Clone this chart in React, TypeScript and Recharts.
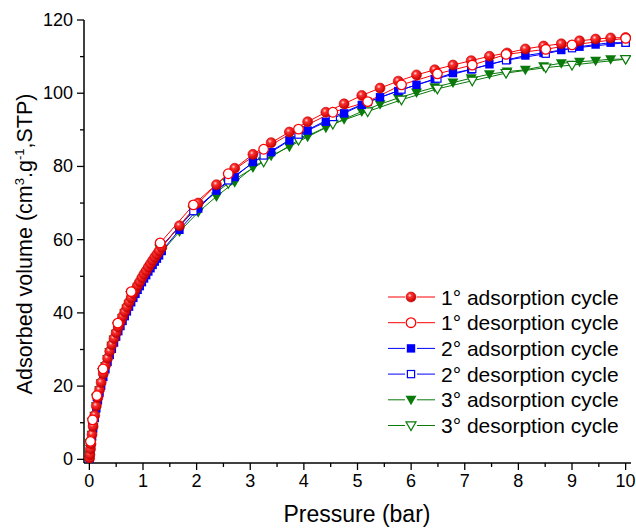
import React from 'react';
import { LineChart, Line, XAxis, YAxis, Customized } from 'recharts';

// ---- data ----
const adsPressure = [0.005, 0.01, 0.02, 0.03, 0.05, 0.07, 0.1, 0.13, 0.16, 0.19, 0.22, 0.26, 0.3, 0.34, 0.38, 0.42, 0.46, 0.5, 0.54, 0.58, 0.62, 0.66, 0.7, 0.74, 0.78, 0.82, 0.86, 0.9, 0.94, 0.98, 1.02, 1.06, 1.1, 1.14, 1.18, 1.22, 1.26, 1.3, 1.35, 1.68, 2.03, 2.37, 2.71, 3.05, 3.39, 3.73, 4.07, 4.41, 4.75, 5.08, 5.42, 5.76, 6.1, 6.44, 6.78, 7.12, 7.46, 7.79, 8.13, 8.47, 8.8, 9.14, 9.44, 9.72, 10.0];
const ads1 = [0.3, 1.3, 2.8, 4.2, 6.8, 9.0, 12.0, 14.6, 16.9, 19.0, 21.0, 23.4, 25.6, 27.6, 29.5, 31.3, 33.0, 34.6, 36.1, 37.6, 39.0, 40.3, 41.6, 42.9, 44.1, 45.3, 46.4, 47.5, 48.5, 49.6, 50.6, 51.5, 52.5, 53.4, 54.3, 55.2, 56.0, 56.9, 57.9, 63.8, 70.0, 75.0, 79.5, 83.3, 86.5, 89.4, 92.2, 94.8, 97.1, 99.4, 101.4, 103.3, 105.0, 106.4, 107.7, 108.9, 110.1, 111.0, 112.1, 112.9, 113.5, 114.3, 114.8, 115.1, 115.2];
const ads2 = [0.2, 1.1, 2.5, 3.8, 6.3, 8.4, 11.3, 13.9, 16.1, 18.2, 20.1, 22.5, 24.6, 26.6, 28.5, 30.2, 31.9, 33.5, 35.0, 36.4, 37.8, 39.1, 40.4, 41.7, 42.9, 44.1, 45.2, 46.3, 47.3, 48.4, 49.4, 50.3, 51.3, 52.2, 53.1, 54.0, 54.8, 55.7, 56.9, 62.7, 68.5, 73.4, 77.1, 81.2, 83.9, 87.1, 89.8, 92.2, 94.5, 96.8, 98.9, 100.6, 102.3, 103.9, 105.5, 106.5, 107.9, 109.1, 110.3, 111.0, 111.8, 112.7, 113.3, 113.8, 113.8];
const ads3 = [0.3, 1.3, 2.8, 4.1, 6.7, 8.9, 11.9, 14.5, 16.8, 18.9, 20.8, 23.2, 25.4, 27.4, 29.3, 31.0, 32.7, 34.3, 35.8, 37.2, 38.6, 39.9, 41.2, 42.4, 43.6, 44.8, 45.9, 46.9, 47.9, 48.9, 49.9, 50.8, 51.7, 52.6, 53.4, 54.2, 55.0, 55.8, 56.6, 62.2, 67.5, 71.8, 75.7, 79.7, 82.9, 85.4, 88.1, 90.6, 92.9, 95.0, 97.0, 98.7, 100.2, 101.6, 102.9, 104.1, 105.2, 105.9, 106.4, 107.4, 108.2, 108.6, 108.9, 109.3, 109.3];

const desPressure = [10.0, 9.0, 8.51, 7.77, 7.14, 6.49, 5.82, 5.19, 4.54, 3.9, 3.25, 2.59, 1.94, 1.32, 0.78, 0.53, 0.255, 0.14, 0.06, 0.02];
const des1 = [115.0, 113.2, 112.0, 110.6, 107.7, 105.3, 102.3, 97.7, 94.8, 90.2, 84.7, 78.0, 69.5, 59.1, 45.8, 37.2, 24.7, 17.4, 10.8, 4.9];
const des2 = [113.8, 112.3, 110.8, 109.0, 106.6, 104.0, 101.0, 97.6, 93.5, 88.7, 83.0, 76.2, 67.8, 57.8, 45.0, 36.5, 24.0, 17.0, 10.3, 4.5];
const des3 = [109.3, 107.7, 107.0, 105.5, 103.4, 101.2, 98.2, 95.0, 91.6, 87.2, 81.3, 75.4, 68.1, 57.5, 44.8, 36.3, 23.8, 16.8, 10.2, 4.4];

const xTicks = [0, 0.5, 1, 1.5, 2, 2.5, 3, 3.5, 4, 4.5, 5, 5.5, 6, 6.5, 7, 7.5, 8, 8.5, 9, 9.5, 10];
const yTicks = [0, 10, 20, 30, 40, 50, 60, 70, 80, 90, 100, 110, 120];
const legendLabels = ['1° adsorption cycle', '1° desorption cycle', '2° adsorption cycle', '2° desorption cycle', '3° adsorption cycle', '3° desorption cycle'];

const toPts = (xs: number[], ys: number[]) => xs.map((x, i) => ({ x, y: ys[i] }));
const sAds1 = toPts(adsPressure, ads1);
const sAds2 = toPts(adsPressure, ads2);
const sAds3 = toPts(adsPressure, ads3);
const sDes1 = toPts(desPressure, des1);
const sDes2 = toPts(desPressure, des2);
const sDes3 = toPts(desPressure, des3);

const FONT = '"Liberation Sans", Arial, sans-serif';
const RED = '#ff0000';
const BLUE = '#0000ff';
const GREEN = '#0a7a0a';

// ---- marker shapes ----
const Ball = (cx: number, cy: number, key?: any) => (
  <circle key={key} cx={cx} cy={cy} r={5} fill="url(#redBall)" stroke="#d00000" strokeWidth={0.6} />
);
const OCircle = (cx: number, cy: number, key?: any) => (
  <circle key={key} cx={cx} cy={cy} r={4.8} fill="#ffffff" stroke={RED} strokeWidth={1.3} />
);
const FSquare = (cx: number, cy: number, key?: any) => (
  <rect key={key} x={cx - 4.2} y={cy - 4.2} width={8.4} height={8.4} fill={BLUE} />
);
const OSquare = (cx: number, cy: number, key?: any) => (
  <rect key={key} x={cx - 3.6} y={cy - 3.6} width={7.2} height={7.2} fill="#ffffff" stroke={BLUE} strokeWidth={1.2} />
);
const FTri = (cx: number, cy: number, key?: any) => (
  <path key={key} d={`M${cx - 5.5},${cy - 4} L${cx + 5.5},${cy - 4} L${cx},${cy + 5.5} Z`} fill={GREEN} />
);
const OTri = (cx: number, cy: number, key?: any) => (
  <path key={key} d={`M${cx - 5},${cy - 3.6} L${cx + 5},${cy - 3.6} L${cx},${cy + 5} Z`} fill="#ffffff" stroke={GREEN} strokeWidth={1.2} />
);

const dotOf = (fn: any) => (p: any) => {
  if (p.cx == null || p.cy == null) return <g key={p.index} />;
  return fn(p.cx, p.cy, p.index);
};

// ---- axis ticks ----
const isMajor = (v: number) => Math.abs(v - Math.round(v)) < 1e-6;

const BottomTick = (p: any) => {
  const v = p.payload.value;
  const major = isMajor(v);
  return (
    <g>
      <line x1={p.x} x2={p.x} y1={p.y} y2={p.y + (major ? 7 : 4)} stroke="#000" strokeWidth={1.3} />
      {major && (
        <text x={p.x} y={p.y + 24} textAnchor="middle" fontFamily={FONT} fontSize={18} fill="#000">{v}</text>
      )}
    </g>
  );
};
const TopTick = (p: any) => {
  const major = isMajor(p.payload.value);
  return <line x1={p.x} x2={p.x} y1={p.y} y2={p.y + (major ? 5 : 3)} stroke="#000" strokeWidth={1.2} />;
};
const LeftTick = (p: any) => {
  const v = p.payload.value;
  const major = v % 20 === 0;
  return (
    <g>
      <line x1={p.x - (major ? 7 : 4)} x2={p.x} y1={p.y} y2={p.y} stroke="#000" strokeWidth={1.3} />
      {major && (
        <text x={p.x - 11} y={p.y + 6} textAnchor="end" fontFamily={FONT} fontSize={18} fill="#000">{v}</text>
      )}
    </g>
  );
};
const RightTick = (p: any) => {
  const major = p.payload.value % 20 === 0;
  return <line x1={p.x - (major ? 5 : 3)} x2={p.x} y1={p.y} y2={p.y} stroke="#000" strokeWidth={1.2} />;
};

// ---- titles and legend ----
const Titles = () => (
  <g fontFamily={FONT} fill="#000">
    <text x={357} y={522} textAnchor="middle" fontSize={23}>Pressure (bar)</text>
    <text transform="translate(32,244) rotate(-90)" textAnchor="middle" fontSize={21.5}>
      <tspan>Adsorbed volume (cm</tspan>
      <tspan dy={-8} fontSize={13}>3</tspan>
      <tspan dy={8}>.g</tspan>
      <tspan dy={-8} fontSize={13}>-1</tspan>
      <tspan dy={8}>,STP)</tspan>
    </text>
  </g>
);

const legendMarkers = [Ball, OCircle, FSquare, OSquare, FTri, OTri];
const legendColors = [RED, RED, BLUE, BLUE, GREEN, GREEN];

const LegendBox = () => (
  <g fontFamily={FONT}>
    {legendLabels.map((lab, i) => {
      const y = 297 + i * 25.7;
      return (
        <g key={lab}>
          <line x1={388} x2={405} y1={y} y2={y} stroke={legendColors[i]} strokeWidth={1} />
          <line x1={417} x2={435} y1={y} y2={y} stroke={legendColors[i]} strokeWidth={1} />
          {legendMarkers[i](411, y)}
          <text x={441} y={y + 7.5} fontSize={21} fill="#000">{lab}</text>
        </g>
      );
    })}
  </g>
);

export default function App() {
  return (
    <div style={{ position: 'absolute', left: 0, top: 0, width: 636, height: 528, background: '#fff' }}>
      <svg width={0} height={0} style={{ position: 'absolute' }}>
        <defs>
          <radialGradient id="redBall" cx="38%" cy="35%" r="65%">
            <stop offset="0%" stopColor="#ffe0e0" />
            <stop offset="30%" stopColor="#ff3030" />
            <stop offset="100%" stopColor="#c00000" />
          </radialGradient>
        </defs>
      </svg>
      <LineChart width={636} height={528} margin={{ top: 20, right: 5, left: 0, bottom: 0 }}>
        <XAxis xAxisId="b" dataKey="x" type="number" domain={[-0.1, 10.1]} ticks={xTicks} interval={0}
          allowDataOverflow tickSize={0} tickMargin={0} height={65} tickLine={false}
          axisLine={{ stroke: '#000', strokeWidth: 1.5 }} tick={<BottomTick />} />
        <XAxis xAxisId="t" dataKey="x" type="number" orientation="top" mirror domain={[-0.1, 10.1]} ticks={xTicks}
          interval={0} allowDataOverflow tickSize={0} tickMargin={0} height={0} tickLine={false}
          axisLine={{ stroke: '#000', strokeWidth: 1.5 }} tick={<TopTick />} />
        <YAxis yAxisId="l" type="number" domain={[-1, 120]} ticks={yTicks} interval={0} allowDataOverflow
          width={84} tickSize={0} tickMargin={0} tickLine={false}
          axisLine={{ stroke: '#000', strokeWidth: 1.5 }} tick={<LeftTick />} />
        <YAxis yAxisId="r" type="number" orientation="right" mirror domain={[-1, 120]} ticks={yTicks} interval={0}
          allowDataOverflow width={0} tickSize={0} tickMargin={0} tickLine={false}
          axisLine={{ stroke: '#000', strokeWidth: 1.5 }} tick={<RightTick />} />

        <Line xAxisId="b" yAxisId="l" data={sAds3} dataKey="y" stroke={GREEN} strokeWidth={1} dot={dotOf(FTri)} activeDot={false} isAnimationActive={false} />
        <Line xAxisId="b" yAxisId="l" data={sDes3} dataKey="y" stroke={GREEN} strokeWidth={1} dot={dotOf(OTri)} activeDot={false} isAnimationActive={false} />
        <Line xAxisId="b" yAxisId="l" data={sAds2} dataKey="y" stroke={BLUE} strokeWidth={1} dot={dotOf(FSquare)} activeDot={false} isAnimationActive={false} />
        <Line xAxisId="b" yAxisId="l" data={sDes2} dataKey="y" stroke={BLUE} strokeWidth={1} dot={dotOf(OSquare)} activeDot={false} isAnimationActive={false} />
        <Line xAxisId="b" yAxisId="l" data={sAds1} dataKey="y" stroke={RED} strokeWidth={1} dot={dotOf(Ball)} activeDot={false} isAnimationActive={false} />
        <Line xAxisId="b" yAxisId="l" data={sDes1} dataKey="y" stroke={RED} strokeWidth={1} dot={dotOf(OCircle)} activeDot={false} isAnimationActive={false} />

        <Customized component={<Titles />} />
        <Customized component={<LegendBox />} />
      </LineChart>
    </div>
  );
}
